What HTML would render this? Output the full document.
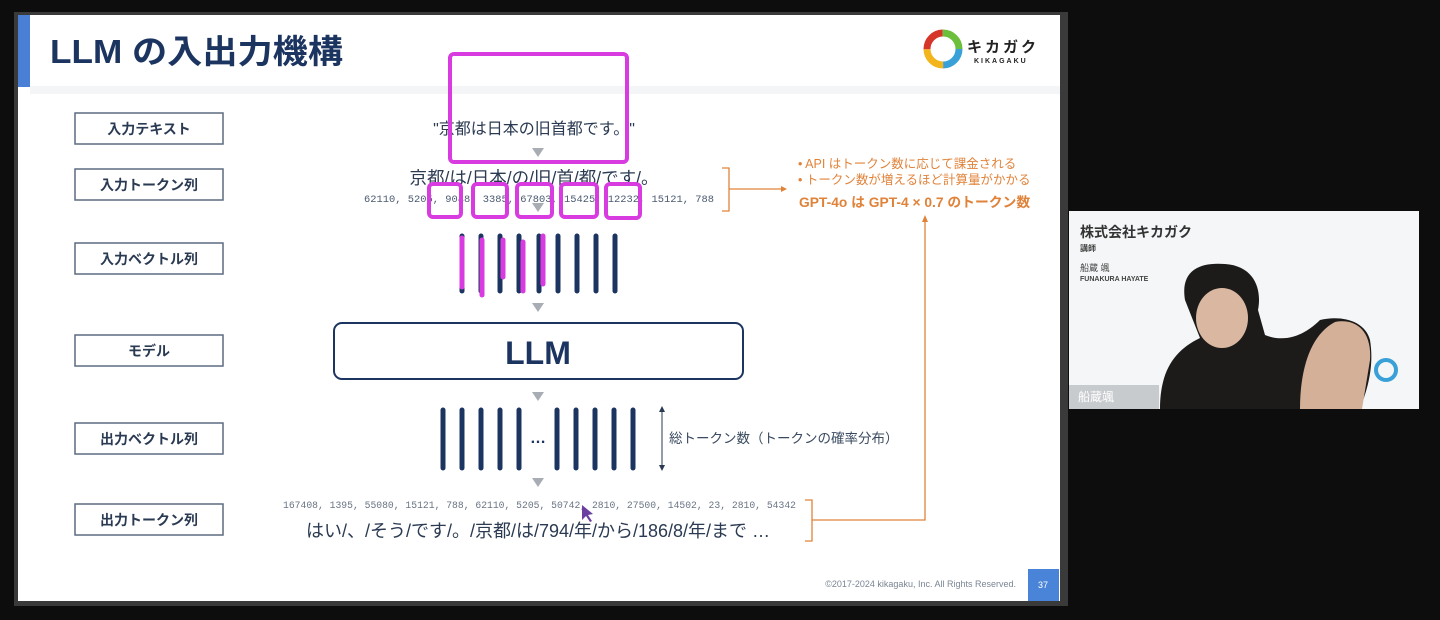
<!DOCTYPE html>
<html><head><meta charset="utf-8"><style>
html,body{margin:0;padding:0;background:#0d0d0d;}
svg{display:block}
text{font-family:"Liberation Sans","Noto Sans CJK JP",sans-serif;}
.mono{font-family:"Liberation Mono","Noto Sans CJK JP",monospace;}
</style></head><body>
<svg width="1440" height="620" viewBox="0 0 1440 620" xmlns="http://www.w3.org/2000/svg">
<rect x="0" y="0" width="1440" height="620" fill="#0d0d0d"/>
<rect x="14" y="12" width="1054" height="594" fill="#3a3a3a"/>
<rect x="18" y="15" width="1042" height="586" fill="#ffffff"/>
<rect x="18" y="15" width="12" height="72" fill="#4a7fd6"/>
<rect x="30" y="86" width="1030" height="8" fill="#f3f5f7"/>
<text x="50" y="63" font-size="33" font-weight="bold" fill="#1c3560" textLength="293" lengthAdjust="spacingAndGlyphs">LLM の入出力機構</text>
<!-- logo -->
<circle cx="943" cy="49" r="16" fill="none" stroke="#3aa0d8" stroke-width="7" stroke-dasharray="25 76"/>
<circle cx="943" cy="49" r="16" fill="none" stroke="#f2b51c" stroke-width="7" stroke-dasharray="25 76" stroke-dashoffset="-25"/>
<circle cx="943" cy="49" r="16" fill="none" stroke="#d6352a" stroke-width="7" stroke-dasharray="25 76" stroke-dashoffset="-50"/>
<circle cx="943" cy="49" r="16" fill="none" stroke="#6bbf3a" stroke-width="7" stroke-dasharray="26 76" stroke-dashoffset="-75"/>
<text x="967" y="52" font-size="15" font-weight="bold" fill="#222" letter-spacing="3">キカガク</text>
<text x="974" y="63" font-size="7" font-weight="bold" fill="#222" letter-spacing="2">KIKAGAKU</text>
<!-- label boxes -->
<g fill="#fff" stroke="#5c6c80" stroke-width="1.5">
<rect x="75" y="113" width="148" height="31"/><rect x="75" y="169" width="148" height="31"/>
<rect x="75" y="243" width="148" height="31"/><rect x="75" y="335" width="148" height="31"/>
<rect x="75" y="423" width="148" height="31"/><rect x="75" y="504" width="148" height="31"/>
</g>
<g font-size="14" font-weight="bold" fill="#2a3a52" text-anchor="middle">
<text x="149" y="134">入力テキスト</text><text x="149" y="190">入力トークン列</text>
<text x="149" y="264">入力ベクトル列</text><text x="149" y="356">モデル</text>
<text x="149" y="444">出力ベクトル列</text><text x="149" y="525">出力トークン列</text>
</g>
<!-- content -->
<text x="534" y="134" font-size="16" fill="#2a3a52" text-anchor="middle">"京都は日本の旧首都です。"</text>
<text x="534" y="184" font-size="17.5" fill="#2a3a52" text-anchor="middle">京都/は/日本/の/旧/首/都/です/。</text>
<text x="364" y="202" font-size="10.5" class="mono" fill="#4a5a70" textLength="350" lengthAdjust="spacingAndGlyphs">62110, 5205, 9048, 3385, 67803, 15425, 12232, 15121, 788</text>
<g fill="#a8adb4">
<polygon points="532,148 544,148 538,157"/><polygon points="532,203 544,203 538,212"/>
<polygon points="532,303 544,303 538,312"/><polygon points="532,392 544,392 538,401"/>
<polygon points="532,478 544,478 538,487"/>
</g>
<g stroke="#1c3560" stroke-width="5" stroke-linecap="round">
<line x1="462" y1="236" x2="462" y2="291"/><line x1="481" y1="236" x2="481" y2="291"/><line x1="500" y1="236" x2="500" y2="291"/>
<line x1="519" y1="236" x2="519" y2="291"/><line x1="539" y1="236" x2="539" y2="291"/><line x1="558" y1="236" x2="558" y2="291"/>
<line x1="577" y1="236" x2="577" y2="291"/><line x1="596" y1="236" x2="596" y2="291"/><line x1="615" y1="236" x2="615" y2="291"/>
<line x1="443" y1="410" x2="443" y2="468"/><line x1="462" y1="410" x2="462" y2="468"/><line x1="481" y1="410" x2="481" y2="468"/>
<line x1="500" y1="410" x2="500" y2="468"/><line x1="519" y1="410" x2="519" y2="468"/>
<line x1="557" y1="410" x2="557" y2="468"/><line x1="576" y1="410" x2="576" y2="468"/><line x1="595" y1="410" x2="595" y2="468"/>
<line x1="614" y1="410" x2="614" y2="468"/><line x1="633" y1="410" x2="633" y2="468"/>
</g>
<text x="538" y="443" font-size="16" font-weight="bold" fill="#1c3560" text-anchor="middle">…</text>
<rect x="334" y="323" width="409" height="56" rx="8" fill="#fff" stroke="#1c3560" stroke-width="2"/>
<text x="538" y="364" font-size="32" font-weight="bold" fill="#1c3560" text-anchor="middle">LLM</text>
<line x1="662" y1="410" x2="662" y2="467" stroke="#2a3a52" stroke-width="1"/>
<polygon points="659,412 665,412 662,406" fill="#2a3a52"/><polygon points="659,465 665,465 662,471" fill="#2a3a52"/>
<text x="669" y="443" font-size="13.5" fill="#3a4a60">総トークン数（トークンの確率分布）</text>
<text x="283" y="508" font-size="9.8" class="mono" fill="#6a7585" textLength="513" lengthAdjust="spacingAndGlyphs">167408, 1395, 55080, 15121, 788, 62110, 5205, 50742, 2810, 27500, 14502, 23, 2810, 54342</text>
<text x="538" y="537" font-size="18" fill="#2a3a52" text-anchor="middle">はい/、/そう/です/。/京都/は/794/年/から/186/8/年/まで …</text>
<!-- orange -->
<g fill="none" stroke="#e0833a" stroke-width="1.3">
<path d="M722,168 h7 v43 h-7 M729,189 h52"/>
<path d="M805,500 h7 v41 h-7 M812,520 h113 v-300"/>
</g>
<polygon points="781,186 787,189 781,192" fill="#e0833a"/>
<polygon points="922,222 925,215 928,222" fill="#e0833a"/>
<g font-size="12.5" fill="#e0833a">
<text x="798" y="168">•  API はトークン数に応じて課金される</text>
<text x="798" y="184">•  トークン数が増えるほど計算量がかかる</text>
<text x="799" y="207" font-weight="bold" font-size="13.8">GPT-4o は GPT-4 × 0.7 のトークン数</text>
</g>
<!-- footer -->
<text x="1016" y="587" font-size="9" fill="#7a8594" text-anchor="end">©2017-2024 kikagaku, Inc. All Rights Reserved.</text>
<rect x="1028" y="569" width="31" height="32" fill="#4a84d8"/>
<text x="1043" y="588" font-size="9" fill="#fff" text-anchor="middle">37</text>
<!-- magenta annotations -->
<g fill="none" stroke="#d83be0" stroke-width="4">
<rect x="450" y="54" width="177" height="108" rx="4"/>
<rect x="429" y="184" width="32" height="33" rx="4"/><rect x="473" y="184" width="34" height="33" rx="4"/>
<rect x="517" y="184" width="35" height="33" rx="4"/><rect x="561" y="184" width="36" height="33" rx="4"/>
<rect x="606" y="184" width="34" height="34" rx="4"/>
</g>
<g stroke="#d83be0" stroke-width="5" stroke-linecap="round">
<line x1="462" y1="238" x2="462" y2="287"/><line x1="482" y1="240" x2="482" y2="295"/>
<line x1="503" y1="240" x2="503" y2="277"/><line x1="523" y1="242" x2="523" y2="291"/>
<line x1="543" y1="236" x2="543" y2="284"/>
</g>
<polygon points="582,505 582,520 586,516 590,522 592,521 588,515 593,514" fill="#6a3fa0"/>
<!-- video panel -->
<rect x="1069" y="211" width="350" height="198" fill="#f4f6f7"/>
<text x="1080" y="237" font-size="14" font-weight="bold" fill="#333">株式会社キカガク</text>
<text x="1080" y="251" font-size="8" font-weight="bold" fill="#444">講師</text>
<text x="1080" y="271" font-size="9" fill="#444">船蔵 颯</text>
<text x="1080" y="281" font-size="7" font-weight="bold" fill="#444">FUNAKURA HAYATE</text>
<path d="M1160,409 C1160,370 1175,350 1200,338 L1185,300 C1180,270 1200,262 1225,264 C1255,266 1262,290 1258,310 L1265,335 C1290,345 1310,330 1320,320 C1340,315 1365,320 1370,340 C1375,370 1365,395 1360,409 Z" fill="#1d1b1a"/>
<ellipse cx="1222" cy="318" rx="26" ry="30" fill="#d9b7a0"/>
<path d="M1300,409 C1300,370 1310,335 1335,322 C1355,318 1372,330 1370,360 L1362,409 Z" fill="#d4b099"/>
<circle cx="1386" cy="370" r="10" fill="none" stroke="#3aa0d8" stroke-width="4"/>
<rect x="1069" y="385" width="90" height="24" fill="#9aa0a6" opacity="0.5"/>
<text x="1078" y="401" font-size="12" fill="#fff">船蔵颯</text>
</svg>
</body></html>
